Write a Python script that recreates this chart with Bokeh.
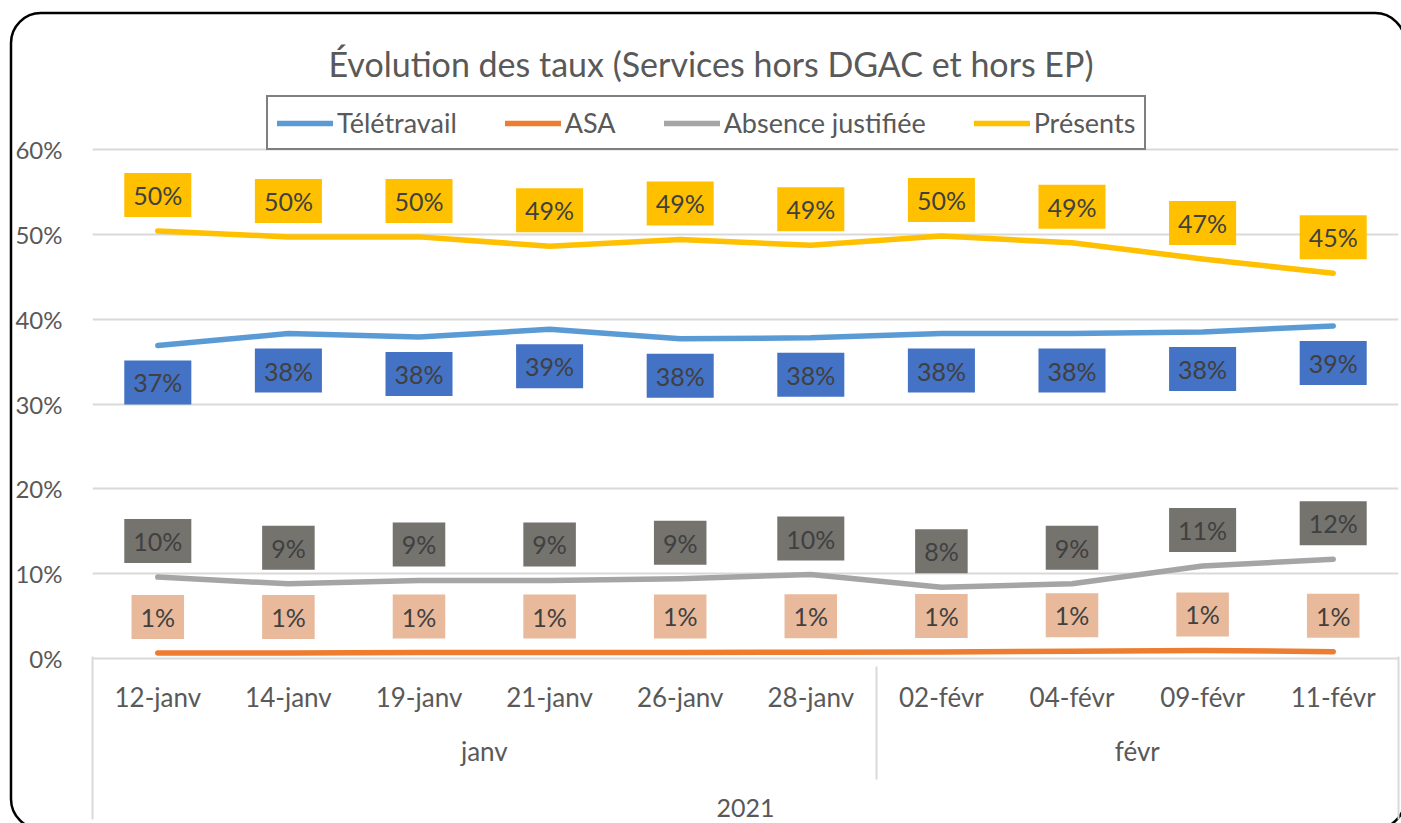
from urllib.parse import quote
from bokeh.plotting import figure
from bokeh.models import (Range1d, LinearAxis, FixedTicker, ColumnDataSource,
                          Legend, LegendItem, PrintfTickFormatter, InlineStyleSheet)
from bokeh.core.properties import value
from bokeh.embed import file_html
from bokeh.resources import INLINE

# ---------------- data ----------------
dates = ["12-janv", "14-janv", "19-janv", "21-janv", "26-janv", "28-janv",
         "02-févr", "04-févr", "09-févr", "11-févr"]
date_month = ["janv"] * 6 + ["févr"] * 4
months = ["janv", "févr"]
year = "2021"
teletravail = [36.9, 38.3, 37.9, 38.8, 37.7, 37.8, 38.3, 38.3, 38.5, 39.2]
asa = [0.65, 0.65, 0.7, 0.7, 0.72, 0.75, 0.78, 0.85, 0.95, 0.8]
absence = [9.6, 8.8, 9.2, 9.2, 9.4, 9.9, 8.4, 8.8, 10.9, 11.7]
presents = [50.4, 49.7, 49.7, 48.6, 49.4, 48.7, 49.8, 49.0, 47.1, 45.4]
y_ticks = [0, 10, 20, 30, 40, 50, 60]
title_text = "Évolution des taux (Services hors DGAC et hors EP)"

FONT = "Lato"
GRAY = "#595959"
GRID = "#D9D9D9"

n = len(dates)
xs = [i + 0.5 for i in range(n)]          # category centres on the x scale

# plot area: 0..60 % occupies 509 px; the frame reaches 61 px higher to hold the legend
FRAME_H = 570
y_top = y_ticks[-1] * FRAME_H / 509

p = figure(x_range=Range1d(0, n), y_range=Range1d(0, y_top),
           frame_width=1306, frame_height=FRAME_H,
           min_border_left=92, min_border_right=3, min_border_top=88, min_border_bottom=165,
           output_backend="svg", toolbar_location=None, title=title_text)
p.outline_line_color = None
p.background_fill_color = "white"
p.border_fill_color = None

# rounded chart-area border (decoration behind the transparent canvas border)
frame_svg = ("<svg xmlns='http://www.w3.org/2000/svg' width='1401' height='823'>"
             "<rect x='11' y='13' width='1394' height='816' rx='30' ry='30' "
             "fill='white' stroke='black' stroke-width='2.5'/></svg>")
p.stylesheets = [InlineStyleSheet(css=":host { background: url(\"data:image/svg+xml,"
                                      + quote(frame_svg) + "\") no-repeat 0 0; }")]

# title
p.title.align = "left"
p.title.offset = 236
p.title.text_font = FONT
p.title.text_font_size = "34px"
p.title.text_font_style = "normal"
p.title.text_color = GRAY
p.title.standoff = 10

# y axis
ya = p.yaxis[0]
ya.ticker = FixedTicker(ticks=y_ticks)
ya.formatter = PrintfTickFormatter(format="%d%%")
ya.axis_line_color = None
ya.major_tick_line_color = None
ya.minor_tick_line_color = None
ya.major_tick_out = 0
ya.minor_tick_out = 0
ya.major_label_standoff = 30
ya.major_label_text_font = FONT
ya.major_label_text_font_size = "24px"
ya.major_label_text_color = GRAY

p.ygrid.ticker = FixedTicker(ticks=y_ticks)
p.ygrid.grid_line_color = GRID
p.ygrid.grid_line_width = 2
p.xgrid.visible = False

# x axis: dates
xa = p.xaxis[0]
xa.ticker = FixedTicker(ticks=xs)
xa.major_label_overrides = {x: d for x, d in zip(xs, dates)}
xa.axis_line_color = GRID
xa.axis_line_width = 2
xa.major_tick_line_color = None
xa.minor_tick_line_color = None
xa.major_tick_out = 0
xa.minor_tick_out = 0
xa.major_label_standoff = 22
xa.major_label_text_font = FONT
xa.major_label_text_font_size = "26px"
xa.major_label_text_color = GRAY

# month level
centers = {}
inner = []
for k, m in enumerate(months):
    idx = [i for i, mm in enumerate(date_month) if mm == m]
    a, b = idx[0], idx[-1] + 1
    centers[(a + b) / 2] = m
    if k < len(months) - 1:
        inner.append(b)


def level_axis(ticks, labels, minor, tick_in, tick_out, standoff, size):
    return LinearAxis(ticker=FixedTicker(ticks=ticks, minor_ticks=minor),
                      major_label_overrides=labels,
                      axis_line_color=None, major_tick_line_color=None,
                      minor_tick_line_color=GRID, minor_tick_line_width=2,
                      minor_tick_in=tick_in, minor_tick_out=tick_out,
                      major_tick_out=0, major_tick_in=0,
                      major_label_standoff=standoff,
                      major_label_text_font=FONT, major_label_text_font_size=size,
                      major_label_text_color=GRAY)


month_axis = level_axis(list(centers.keys()), centers, [], 0, 0, 19, "26px")
p.add_layout(month_axis, "below")

# year level (its minor ticks draw the month separators up to the dates axis)
year_axis = level_axis([n / 2], {n / 2: year}, inner, 103, 10, 19, "25px")
p.add_layout(year_axis, "below")

# outer edges of the category axis
edge_axis = level_axis([], {}, [0, n], 163, 0, 0, "1px")
p.add_layout(edge_axis, "below")

# ---------------- series ----------------
series = [
    ("Télétravail", teletravail, "#5B9BD5", "#4472C4", 37),
    ("ASA", asa, "#ED7D31", "#E8B99A", -36),
    ("Absence justifiée", absence, "#A5A5A5", "#75736E", -36),
    ("Présents", presents, "#FFC000", "#FFC000", -36),
]
items = []
for name, vals, lc, bc, off in series:
    r = p.line(x=xs, y=vals, line_color=lc, line_width=5.5,
               line_cap="round", line_join="round")
    items.append(LegendItem(label=name, renderers=[r]))

for name, vals, lc, bc, off in series:
    src = ColumnDataSource(dict(x=xs, y=vals, t=[f"{v:.0f}%" for v in vals]))
    p.text(x="x", y="y", text="t", source=src,
           text_font=value(FONT), text_font_size="25px", text_color="#404040",
           text_align="center", text_baseline="middle", y_offset=off,
           background_fill_color=bc, padding=dict(x=9, y=7))

legend = Legend(items=items, location=(174, 508), orientation="horizontal",
                border_line_color="black", border_line_width=2.5,
                background_fill_color="white", background_fill_alpha=1,
                label_text_font=FONT, label_text_font_size="27px", label_text_color=GRAY,
                glyph_width=56, label_standoff=4, spacing=48, padding=9, margin=0)
p.add_layout(legend)

open("out.html", "w").write(file_html(p, INLINE))
